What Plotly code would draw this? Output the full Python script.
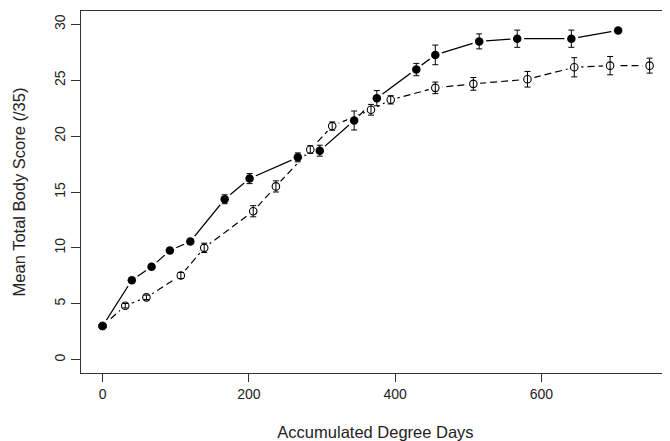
import plotly.graph_objects as go

# Group with filled circles (solid line)
x_filled = [0, 40, 67, 92, 120, 167, 201, 267, 297, 344, 375, 429, 455, 515, 567, 641, 705]
y_filled = [3.0, 7.1, 8.3, 9.77, 10.57, 14.35, 16.2, 18.1, 18.7, 21.4, 23.4, 25.96, 27.27, 28.48, 28.72, 28.72, 29.46]
e_filled = [0.15, 0.2, 0.2, 0.2, 0.2, 0.4, 0.45, 0.4, 0.49, 0.85, 0.68, 0.55, 0.88, 0.67, 0.77, 0.77, 0.15]

# Group with open circles (dashed line)
x_open = [0, 31, 60, 107, 139, 206, 237, 284, 314, 367, 394, 455, 507, 581, 645, 694, 748]
y_open = [3.0, 4.82, 5.57, 7.53, 10.0, 13.28, 15.5, 18.8, 20.9, 22.36, 23.25, 24.32, 24.68, 25.09, 26.16, 26.31, 26.31]
e_open = [0.1, 0.2, 0.2, 0.27, 0.42, 0.5, 0.5, 0.34, 0.37, 0.48, 0.37, 0.52, 0.57, 0.7, 0.86, 0.82, 0.67]

x_ticks = [0, 200, 400, 600]
y_ticks = [0, 5, 10, 15, 20, 25, 30]

FONT = "Liberation Sans, Arial, sans-serif"
AX = "#333333"

fig = go.Figure()
# connecting lines
fig.add_trace(go.Scatter(x=x_filled, y=y_filled, mode="lines",
                         line=dict(color="black", width=1.2), hoverinfo="skip", showlegend=False))
fig.add_trace(go.Scatter(x=x_open, y=y_open, mode="lines",
                         line=dict(color="black", width=1.2, dash="7px,4px"), hoverinfo="skip", showlegend=False))
# white halos to create gaps around points (R type="b")
for xs, ys in ((x_filled, y_filled), (x_open, y_open)):
    fig.add_trace(go.Scatter(x=xs, y=ys, mode="markers",
                             marker=dict(symbol="circle", size=14, color="white", line=dict(width=0)),
                             hoverinfo="skip", showlegend=False))
# open markers with error bars
fig.add_trace(go.Scatter(x=x_open, y=y_open, mode="markers",
                         marker=dict(symbol="circle-open", size=7.5, color="black", line=dict(width=1.1)),
                         error_y=dict(type="data", array=e_open, visible=True, color="black", thickness=1, width=3),
                         showlegend=False))
# filled markers with error bars
fig.add_trace(go.Scatter(x=x_filled, y=y_filled, mode="markers",
                         marker=dict(symbol="circle", size=8.5, color="black", line=dict(width=0)),
                         error_y=dict(type="data", array=e_filled, visible=True, color="black", thickness=1, width=3),
                         showlegend=False))

fig.update_layout(
    width=662, height=433,
    margin=dict(l=73, r=0, t=3, b=68),
    paper_bgcolor="white", plot_bgcolor="white",
    font=dict(family=FONT, color="#222222", size=14),
    xaxis=dict(range=[-29.5, 775.9], tickvals=x_ticks, ticktext=[str(v) for v in x_ticks],
               automargin=False,
               showgrid=False, zeroline=False, showline=True, linecolor=AX, linewidth=1.3,
               mirror=True, ticks="outside", ticklen=8, tickcolor=AX, tickwidth=1,
               tickfont=dict(size=14),
               title=dict(text="Accumulated Degree Days", font=dict(size=16.5), standoff=27)),
    yaxis=dict(range=[-1.2, 31.2], tickvals=y_ticks, ticktext=[str(v) for v in y_ticks],
               automargin=False,
               showgrid=False, zeroline=False, showline=True, linecolor=AX, linewidth=1.3,
               ticks="outside", ticklen=9, tickcolor=AX, tickwidth=1, tickangle=-90,
               tickfont=dict(size=14),
               title=dict(text="Mean Total Body Score (/35)", font=dict(size=16.5), standoff=22)),
)

fig.write_html("out.html")
